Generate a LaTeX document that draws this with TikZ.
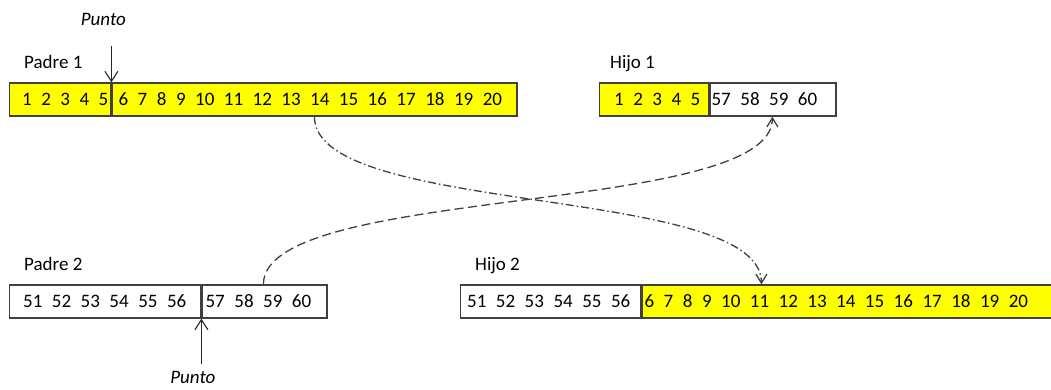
\documentclass[tikz,border=0pt]{standalone}
\usepackage{fontspec}
\setmainfont{Carlito}
\usetikzlibrary{arrows.meta,positioning}

\definecolor{genyellow}{HTML}{FFFF00}
\definecolor{boxgray}{HTML}{404040}

% numbers of a chromosome, with a fixed gap between them
\newcommand{\genes}[1]{\foreach \gen [count=\k] in {#1}{\ifnum\k>1 \hspace{.5em}\fi\gen}}
\newcommand{\textsz}{\fontsize{19pt}{22pt}\selectfont}

\begin{document}
\begin{tikzpicture}[x=1pt, y=1pt, font=\textsz,
  cell/.style={draw=boxgray, line width=1.4pt, minimum height=33pt,
    minimum width=#1, inner sep=0pt, anchor=west},
  genes/.style={inner sep=0pt},
  tag/.style={inner sep=0pt, anchor=base west},
  note/.style={inner sep=0pt, font=\textsz\itshape},
  punto/.style={draw=black!85, line width=1.1pt,
    -{Straight Barb[length=10pt,width=13pt]}},
  swap/.style={draw=boxgray, line width=1.3pt,
    -{Straight Barb[length=9pt,width=11pt]}}]

\useasboundingbox (0,0) rectangle (1051,389);

% Padre 1
\node[cell=101pt, fill=genyellow] (p1a) at (9,289.5) {};
\node[cell=405pt, fill=genyellow] (p1b) at (p1a.east) {};
\node[genes, right=13pt of p1a.west] (p1a-g) {\genes{1,2,3,4,5}};
\node[genes, right=7pt of p1b.west] (p1b-g) {\genes{6,7,8,9,10,11,12,13,14,15,16,17,18,19,20}};
\node[tag] (lp1) at ([shift={(15pt,14pt)}]p1a.north west) {Padre 1};

% Hijo 1
\node[cell=109pt, fill=genyellow] (h1a) at (599,289.5) {};
\node[cell=126pt, fill=white] (h1b) at (h1a.east) {};
\node[genes, right=15pt of h1a.west] (h1a-g) {\genes{1,2,3,4,5}};
\node[genes, right=2pt of h1b.west] (h1b-g) {\genes{57,58,59,60}};
\node[tag] (lh1) at ([shift={(11pt,14pt)}]h1a.north west) {Hijo 1};

% Padre 2
\node[cell=191pt, fill=white] (p2a) at (9,87.5) {};
\node[cell=125pt, fill=white] (p2b) at (p2a.east) {};
\node[genes, right=14pt of p2a.west] (p2a-g) {\genes{51,52,53,54,55,56}};
\node[genes, right=4pt of p2b.west] (p2b-g) {\genes{57,58,59,60}};
\node[tag] (lp2) at ([shift={(15pt,14pt)}]p2a.north west) {Padre 2};

% Hijo 2 (runs off the right edge)
\node[cell=180pt, fill=white] (h2a) at (460,87.5) {};
\node[cell=420pt, fill=genyellow] (h2b) at (h2a.east) {};
\node[genes, right=7pt of h2a.west] (h2a-g) {\genes{51,52,53,54,55,56}};
\node[genes, right=3pt of h2b.west] (h2b-g) {\genes{6,7,8,9,10,11,12,13,14,15,16,17,18,19,20}};
\node[tag] (lh2) at ([shift={(15pt,14pt)}]h2a.north west) {Hijo 2};

% crossover points
\coordinate[above=36pt of p1a.north east] (cut1);
\node[note, above=20pt of cut1, xshift=-8pt] (pt1) {Punto};
\draw[punto] (cut1) -- (p1a.north east);

\coordinate[below=45pt of p2a.south east] (cut2);
\node[note, below=7pt of cut2, xshift=-8.5pt] (pt2) {Punto};
\draw[punto] (cut2) -- (p2a.south east);

% exchanged tails
\draw[swap, dash pattern=on 8pt off 3pt on 1.5pt off 3pt]
  ([xshift=203pt]p1b.south west) .. controls +(0,-100) and +(0,100) .. ([xshift=120pt]h2b.north west);
\draw[swap, dash pattern=on 9pt off 4.5pt]
  ([xshift=62pt]p2b.north west) .. controls +(0,100) and +(0,-100) .. ([xshift=63pt]h1b.south west);

\end{tikzpicture}
\end{document}
